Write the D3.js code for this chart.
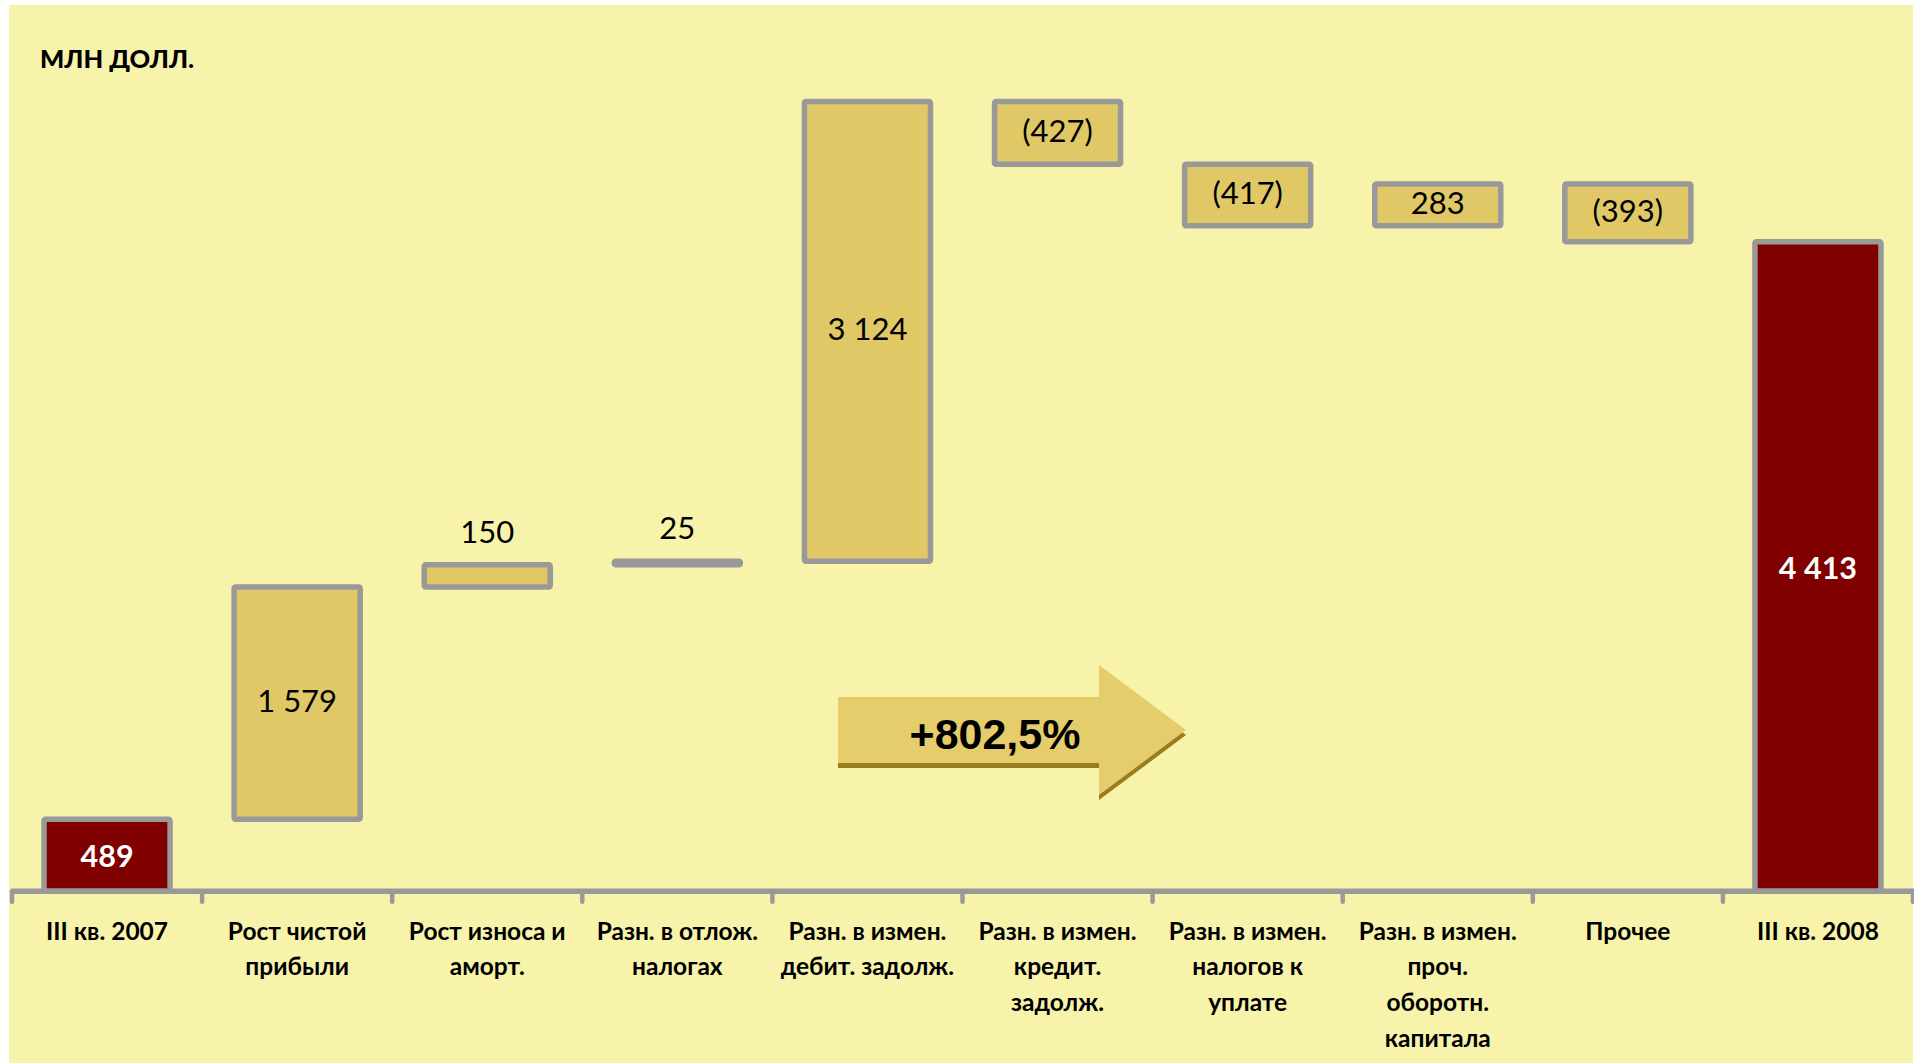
<!DOCTYPE html>
<html><head><meta charset="utf-8">
<script src="https://cdn.jsdelivr.net/npm/d3@7"></script>
<style>body{margin:0;background:#fff}svg{display:block}</style>
</head><body><svg id="c" width="1914" height="1063"></svg>
<script>
// ---- data ----
const categories = [
  "III кв. 2007",
  "Рост чистой\nприбыли",
  "Рост износа и\nаморт.",
  "Разн. в отлож.\nналогах",
  "Разн. в измен.\nдебит. задолж.",
  "Разн. в измен.\nкредит.\nзадолж.",
  "Разн. в измен.\nналогов к\nуплате",
  "Разн. в измен.\nпроч.\nоборотн.\nкапитала",
  "Прочее",
  "III кв. 2008"
];
const values = [489, 1579, 150, 25, 3124, -427, -417, 283, -393, 4413];
const kinds  = ["total","delta","delta","delta","delta","delta","delta","delta","delta","total"];
const unitLabel = "МЛН ДОЛЛ.";
const growthLabel = "+802,5%";

// ---- layout ----
const W = 1914, H = 1063;
const svg = d3.select("#c");
const C = {bg:"#F7F3AB", bar:"#DFC865", total:"#800000", stroke:"#999999",
           arrow:"#E5CD6B", arrowShadow:"#9A7D1C"};
const FONT = "Lato, 'Noto Sans', sans-serif";

svg.append("rect").attr("x",9).attr("y",5).attr("width",1904).attr("height",1058).attr("fill",C.bg);

const zeroY = 891.2, pxPerUnit = 0.14715;
const y = d3.scaleLinear().domain([0, 6000]).range([zeroY, zeroY - 6000*pxPerUnit]);
const x = d3.scaleBand().domain(categories).range([12, 1913]).paddingInner(0.337).paddingOuter(0.1685);

// waterfall running totals
let run = 0;
const bars = categories.map((c,i) => {
  let a, b;
  if (kinds[i] === "total") { a = 0; b = values[i]; run = values[i]; }
  else { a = run; b = run + values[i]; run = b; }
  return {cat:c, v:values[i], kind:kinds[i], lo:Math.min(a,b), hi:Math.max(a,b)};
});

const loc = d3.formatLocale({decimal:",", thousands:"\u00a0", grouping:[3], currency:["",""]});
const f = loc.format(",");
const fmt = v => v < 0 ? "(" + f(-v) + ")" : f(v);

// bars
svg.append("g").selectAll("rect").data(bars).join("rect")
  .attr("x", d => x(d.cat))
  .attr("width", x.bandwidth())
  .attr("y", d => y(d.hi))
  .attr("height", d => y(d.lo) - y(d.hi))
  .attr("fill", d => d.kind === "total" ? C.total : C.bar)
  .attr("stroke", C.stroke).attr("stroke-width", 5.5)
  .attr("stroke-linejoin","round").attr("rx",1.5);

// axis line and ticks
svg.append("line").attr("x1", 11).attr("x2", W).attr("y1", zeroY).attr("y2", zeroY)
  .attr("stroke", C.stroke).attr("stroke-width", 5.5);
const bounds = d3.range(categories.length + 1).map(i => x.range()[0] + i * x.step());
svg.append("g").selectAll("line").data(bounds).join("line")
  .attr("x1", d => d).attr("x2", d => d).attr("y1", zeroY).attr("y2", zeroY + 10.5)
  .attr("stroke", C.stroke).attr("stroke-width", 4.5).attr("stroke-linecap","round");

// value labels
svg.append("g").selectAll("text").data(bars).join("text")
  .attr("x", d => x(d.cat) + x.bandwidth()/2)
  .attr("y", d => {
    const h = y(d.lo) - y(d.hi);
    if (h < 30) return y(d.hi) - 22;
    return (y(d.lo) + y(d.hi))/2 + (d.kind === "total" ? 12 : 9);
  })
  .attr("text-anchor","middle")
  .attr("font-family", FONT)
  .attr("font-size", d => d.kind === "total" ? 30.5 : 31)
  .attr("font-weight", d => d.kind === "total" ? 700 : 400)
  .attr("fill", d => d.kind === "total" ? "#fff" : "#000")
  .text(d => fmt(d.v));

// category labels
const cl = svg.append("g").selectAll("text").data(categories).join("text")
  .attr("text-anchor","middle").attr("font-family", FONT).attr("font-weight",700)
  .attr("font-size", 24.5).attr("fill","#000");
cl.each(function(c){
  const cx = x(c) + x.bandwidth()/2;
  d3.select(this).selectAll("tspan").data(c.split("\n")).join("tspan")
    .attr("x", cx).attr("y", (d,i) => 939.5 + i*35.7).text(d => d);
});

// unit label
svg.append("text").attr("x", 40).attr("y", 68).attr("font-family", FONT)
  .attr("font-weight",900).attr("font-size",25.5).attr("fill","#000").text(unitLabel);

// growth arrow annotation
const ax0 = 838, axNeck = 1099, axTip = 1186, acy = y(1095), bodyH = 33, headH = 65;
const arrowPts = [[ax0, acy-bodyH],[axNeck, acy-bodyH],[axNeck, acy-headH],[axTip, acy],
                  [axNeck, acy+headH],[axNeck, acy+bodyH],[ax0, acy+bodyH]];
const line = d3.line();
svg.append("path").attr("d", line(arrowPts.map(p => [p[0], p[1]+5])) + "Z").attr("fill", C.arrowShadow);
svg.append("path").attr("d", line(arrowPts) + "Z").attr("fill", C.arrow);
svg.append("text").attr("x", 995).attr("y", 749.3).attr("text-anchor","middle")
  .attr("font-family","'Liberation Sans', Arial, sans-serif").attr("font-weight",700)
  .attr("font-size",43).attr("fill","#000").text(growthLabel);
</script></body></html>
